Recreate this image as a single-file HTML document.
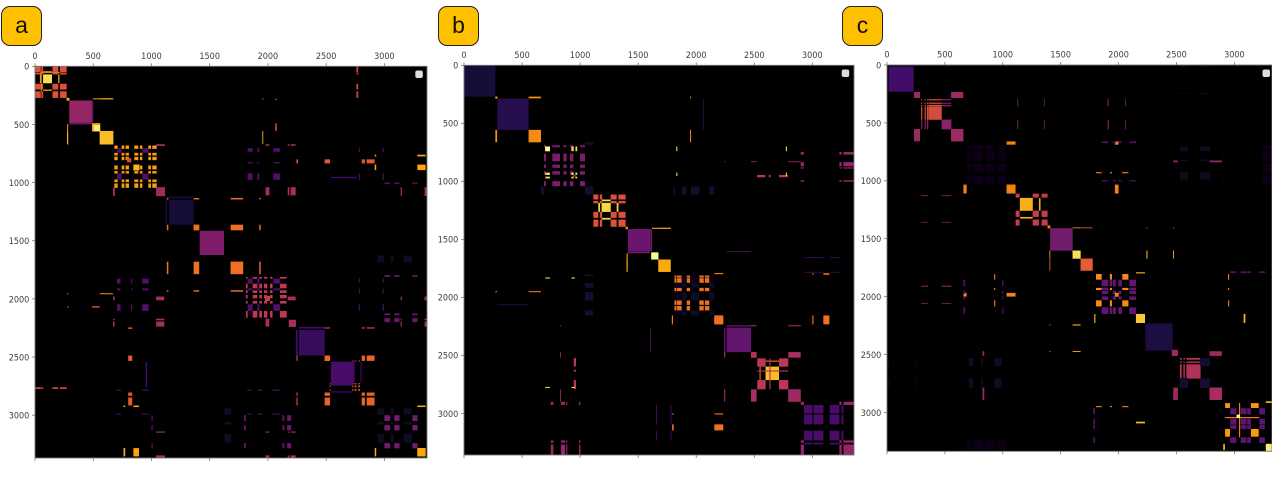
<!DOCTYPE html>
<html lang="en">
<head>
<meta charset="utf-8">
<title>Matrix comparison panels a, b, c</title>
<style>
html,body{margin:0;padding:0;background:#fff;width:1272px;height:483px;overflow:hidden;}
#stage{position:relative;width:1272px;height:483px;}
#chart{position:absolute;left:0;top:0;}
.badge{position:absolute;top:6px;height:38px;background:#ffc000;border:1px solid #222;border-radius:9px;font-family:"Liberation Sans",sans-serif;font-size:23px;line-height:37px;text-align:center;color:#111;box-sizing:content-box;}
text{font-family:"DejaVu Sans",sans-serif;font-size:9.2px;fill:#3c3c3c;}
</style>
</head>
<body>
<div id="stage">
  <div class="badge" style="left:1px;width:39px">a</div>
  <div class="badge" style="left:438px;width:39px">b</div>
  <div class="badge" style="left:842px;width:39px">c</div>
  <svg id="chart" width="1272" height="483" viewBox="0 0 1272 483" xmlns="http://www.w3.org/2000/svg"></svg>
</div>
<script>
// Tick labels shared by all axes
const tickLabels = [0, 500, 1000, 1500, 2000, 2500, 3000];

// ----- Panel a: index spans -----
const aOuter = [[0,50],[55,70],[150,200],[215,272]];
const aOrange = [[681,710],[744,767],[778,807],[853,887],[901,922],[973,996],[1007,1045]];
const aPurple = [[704,744],[922,973]];
const aRed = [[1811,1826],[1869,1909],[1926,1949],[1966,1995],[2018,2040],[2103,2161]];
const aViolet = [[1826,1869],[1909,1926],[2046,2103]];
const aBlue = [[3000,3050],[3085,3130],[3240,3285]];
const aNavy = [[2940,2996],[3055,3082],[3160,3237]];
const aCluster = [[2805,2833],[2848,2916]];
const aGold = [[760,775],[845,893]];
const aMagCols = [[1040,1115],[1980,2012],[2170,2184],[2195,2238]];
const aPurpleCols = [[700,738],[921,979],[1823,1860],[1912,1952],[2040,2103]];
const aSpeckle = [[2725,2735],[2745,2760],[2775,2790]];

// Panel a blocks: [row spans, column spans, value]
const panelABlocks = [
  [aOuter, aOuter, .6],
  [[[70,145]], [[70,145]], .92],
  [[[50,58]], [[45,215]], .72],
  [[[200,210]], [[70,145]], .85],
  [[[42,52]], [[70,145]], .75],
  [[[272,295]], [[272,295]], .82],
  [[[295,485]], [[295,485]], .41],
  [[[485,500]], [[295,485]], .3],
  [[[275,285]], [[497,560]], .7],
  [[[275,285]], [[560,672]], .85],
  [[[490,560]], [[490,560]], .78],
  [[[505,558]], [[505,558]], .95],
  [[[556,672]], [[556,672]], .85],
  [aOrange, aOrange, .78],
  [aPurple, aPurple, .24],
  [[[790,825]], [[790,825]], .58],
  [[[845,896]], [[845,896]], .83],
  [[[670,685]], [[1040,1116]], .45],
  [[[1040,1116]], [[1040,1116]], .43],
  [[[1150,1362]], [[1150,1362]], .1],
  [[[1120,1135]], [[1150,1362]], .1],
  [[[1362,1410]], [[1362,1410]], .68],
  [[[1132,1145]], [[1362,1410]], .66],
  [[[1132,1145]], [[1132,1145]], .66],
  [[[1415,1622]], [[1415,1622]], .35],
  [[[1680,1787]], [[1680,1787]], .68],
  [[[1132,1145]], [[1680,1787]], .68],
  [[[1362,1410]], [[1680,1787]], .68],
  [[[1925,1938]], [[1132,1145],[1362,1410],[1680,1787]], .65],
  [[[1952,1960]], [[275,285],[556,670]], .8],
  [[[2063,2075]], [[280,290],[490,555]], .62],
  [aRed, aRed, .5],
  [aViolet, aViolet, .24],
  [[[1975,2018]], [[1975,2018]], .52],
  [[[704,735],[920,976],[825,835]], aViolet, .24],
  [[[1040,1110],[670,683]], [[1980,2012],[2170,2184],[2195,2238]], .45],
  [[[2180,2240]], [[2180,2240]], .45],
  [[[1980,2012]], [[2170,2238]], .45],
  [[[2267,2487]], [[2267,2487]], .17],
  [[[2240,2255]], [[2267,2487]], .2],
  [[[2487,2533]], [[2487,2533]], .66],
  [[[2245,2255]], [[2487,2533],[2805,2833],[2848,2916]], .58],
  [[[2487,2533]], aCluster, .65],
  [[[800,835]], [[2245,2258],[2487,2533],[2805,2833],[2848,2916]], .62],
  [[[2541,2725]], [[2541,2725]], .22],
  [[[2725,2745],[2795,2805]], [[2541,2725]], .2],
  [aSpeckle, aSpeckle, .62],
  [[[2530,2538]], aSpeckle, .6],
  [aCluster, aCluster, .65],
  [[[2760,2775]], aOuter, .55],
  [[[950,962]], [[2540,2760]], .2],
  [[[2917,2930],[3283,3354]], aGold, .8],
  [[[3283,3354]], [[3283,3354]], .8],
  [[[2917,2930]], [[3283,3354]], .82],
  [aBlue, aBlue, .32],
  [aNavy, aNavy, .06],
  [[[1625,1685]], aNavy, .06],
  [[[1795,1810],[2125,2140],[2165,2200]], aBlue, .3],
  [[[1000,1010]], aBlue, .3],
  [[[3140,3150],[3345,3366]], aMagCols, .45],
  [[[2985,2995],[2780,2790]], aPurpleCols, .22]
];

// ----- Panel b: index spans -----
const bMag = [[689,706],[761,827],[856,884],[913,942],[999,1042]];
const bYellow = [[700,740],[925,945],[960,975]];
const bNavyCols = [[663,680],[1803,1818],[1875,1918],[1955,2027],[2113,2156]];
const bRed = [[1114,1157],[1170,1190],[1263,1315],[1330,1392]];
const bOrange = [[1812,1830],[1835,1875],[1918,1947],[2027,2065],[2075,2113]];
const bNavy = [[1875,1918],[1955,2027],[2113,2156]];
const bCluster = [[2526,2598],[2713,2793]];
const bPurple = [[2928,3000],[3010,3095],[3150,3233],[3253,3268]];
const bPink = [[2900,2928],[3233,3253],[3268,3355]];
const bPinkCols = [[747,770],[835,870],[880,890],[990,1003]];

// Panel b blocks: [row spans, column spans, value]
const panelBBlocks = [
  [[[0,270]], [[0,270]], .1],
  [[[270,287]], [[270,287]], .78],
  [[[287,557]], [[287,557]], .14],
  [[[557,663]], [[557,663]], .74],
  [[[270,285]], [[557,663]], .75],
  [[[1947,1956]], [[270,285],[557,663]], .72],
  [[[2060,2068]], [[287,557]], .15],
  [bMag, bMag, .35],
  [bYellow, bYellow, .92],
  [[[700,740]], [[700,740]], .99],
  [[[945,960]], [[945,960]], .55],
  [[[670,690]], [[1042,1114]], .07],
  [[[1042,1114]], [[1042,1114]], .08],
  [[[1042,1114]], bNavyCols, .08],
  [bRed, bRed, .6],
  [[[1186,1263]], [[1186,1263]], .9],
  [[[1157,1172],[1315,1330]], [[1186,1263]], .9],
  [[[1392,1412]], [[1392,1412]], .72],
  [[[1412,1602]], [[1412,1602]], .3],
  [[[1605,1620]], [[1412,1602]], .32],
  [[[1400,1410]], [[1620,1674]], .75],
  [[[1400,1410]], [[1674,1780]], .83],
  [[[1613,1674]], [[1613,1674]], .98],
  [[[1674,1780]], [[1674,1780]], .81],
  [bOrange, bOrange, .68],
  [bNavy, bNavy, .06],
  [[[1812,1875]], bNavy, .04],
  [[[1790,1800]], [[2156,2233]], .7],
  [[[2156,2233]], [[2156,2233]], .68],
  [[[2156,2233],[1792,1806]], [[3000,3010],[3095,3147]], .68],
  [[[2262,2472]], [[2262,2472]], .28],
  [[[2240,2252]], [[2262,2472]], .27],
  [[[2472,2520]], [[2472,2520]], .47],
  [[[2472,2520]], [[2793,2900]], .45],
  [[[2240,2250]], [[2472,2520],[2793,2900]], .42],
  [bCluster, bCluster, .5],
  [[[2598,2713]], [[2598,2713]], .85],
  [[[2545,2555]], [[2598,2713]], .66],
  [[[2630,2640]], [[2526,2713],[2713,2793]], .48],
  [[[2793,2900]], [[2793,2900]], .42],
  [bPurple, bPurple, .22],
  [bPink, bPink, .4],
  [bPink, bPinkCols, .4],
  [[[945,965]], [[2524,2595],[2625,2640],[2713,2790]], .5],
  [[[828,835]], [[2240,2250],[2472,2520],[2793,2900]], .45],
  [[[2772,2782],[1828,1838]], [[700,740],[925,955]], .88],
  [[[1602,1608]], [[2262,2472]], .28],
  [[[1655,1662],[1780,1787]], [[2928,3095],[3150,3233]], .22]
];

// ----- Panel c: index spans -----
const cStripes = [[295,305],[325,335],[345,357]];
const cNavyGrid = [[690,730],[745,830],[850,930],[960,1030]];
const cRed = [[1111,1145],[1258,1312],[1335,1387]];
const cPurple = [[1854,1911],[1949,1977],[1998,2026],[2093,2150]];
const cOrange = [[1805,1854],[1925,1943],[2032,2085]];
const cStripes2 = [[2530,2545],[2560,2572],[2585,2600]];
const cViolet = [[2964,3017],[3055,3105],[3110,3143],[3215,3264]];
const cAmber = [[2920,2962],[3143,3210]];
const cNavyRows = [[2530,2600],[2705,2790]];

// Panel c blocks: [row spans, column spans, value]
const panelCBlocks = [
  [[[15,230]], [[15,230]], .2],
  [[[233,285]], [[233,285]], .42],
  [[[553,659]], [[553,659]], .42],
  [[[233,285]], [[553,659]], .42],
  [cStripes, cStripes, .6],
  [cStripes, [[360,472]], .6],
  [[[360,472]], [[360,472]], .58],
  [[[472,555]], [[472,555]], .38],
  [cStripes, [[472,555]], .36],
  [cNavyGrid, cNavyGrid, .04],
  [[[1033,1110]], [[1033,1110]], .72],
  [[[660,688]], [[1033,1110]], .72],
  [[[1968,2000]], [[1033,1110],[660,688]], .72],
  [cRed, cRed, .52],
  [[[1148,1258]], [[1148,1258]], .82],
  [[[1150,1165],[1312,1326]], [[1150,1258]], .82],
  [[[1387,1410]], [[1387,1410]], .72],
  [[[1410,1603]], [[1410,1603]], .32],
  [[[1603,1672]], [[1603,1672]], .92],
  [[[1672,1776]], [[1672,1776]], .63],
  [[[1403,1410]], [[1603,1672]], .8],
  [[[1403,1410]], [[1672,1776]], .65],
  [[[2240,2250],[2470,2478]], [[1403,1410],[1603,1672]], .8],
  [cPurple, cPurple, .28],
  [cOrange, cOrange, .74],
  [[[1923,1943],[2003,2029]], [[1854,1911],[2093,2150]], .28],
  [[[1968,2000]], [[1968,2000]], .73],
  [[[2150,2228]], [[2150,2228]], .87],
  [[[1790,1800],[3080,3095]], [[2150,2228]], .83],
  [[[2242,2466]], [[2242,2466]], .12],
  [[[2230,2240]], [[2242,2466]], .12],
  [[[2460,2512]], [[2460,2512]], .42],
  [[[2786,2892]], [[2786,2892]], .45],
  [[[2472,2512]], [[2786,2892]], .42],
  [cStripes2, cStripes2, .48],
  [cStripes2, [[2593,2708]], .48],
  [[[2593,2708]], [[2593,2708]], .47],
  [[[2705,2789]], [[2705,2789]], .08],
  [cStripes2, [[2705,2789]], .08],
  [[[2705,2789]], [[2530,2600]], .08],
  [cViolet, cViolet, .26],
  [cAmber, cAmber, .77],
  [[[3040,3050]], [[2918,3215]], .7],
  [[[3020,3048]], [[3020,3048]], .98],
  [[[3272,3325]], [[3272,3340]], .95],
  [[[2904,2918]], [[3272,3325]], .85],
  [[[2945,2955]], cOrange, .7],
  [[[1782,1796]], cViolet, .26],
  [[[1905,1915],[2055,2062]], [[295,355],[472,555]], .36],
  [[[1125,1133],[1355,1362]], [[295,355],[472,555]], .35],
  [[[660,675],[995,1005]], cPurple, .25],
  [[[925,935]], cOrange, .7],
  [cNavyRows, [[705,745],[815,830],[925,990],[10,20],[240,250]], .06],
  [[[825,840]], [[2472,2512],[2786,2892]], .42],
  [[[2895,2905],[3240,3325]], cNavyGrid, .03]
];

// Inferno colour stops, sampled at every 0.1
const infernoStops = ["#000004","#160b39","#420a68","#6a176e","#932667","#bc3754","#dd513a","#f37819","#fca50a","#f6d746","#fcffa4"];

const panelBlocks = [panelABlocks, panelBBlocks, panelCBlocks];
const panelNames = ["a", "b", "c"];
const panelLayouts = [
  {left:35,  top:66.3, right:427,  bottom:458,   xMax:3366, yMax:3368, chipX:415.3, chipY:70.5},
  {left:464, top:65.3, right:854,  bottom:455,   xMax:3359, yMax:3359, chipX:841.7, chipY:69.5},
  {left:887, top:65,   right:1272, bottom:451.3, xMax:3325, yMax:3336, chipX:1262.5, chipY:69.5}
];

const SVG_NS = "http://www.w3.org/2000/svg";
const svg = document.getElementById("chart");

function hexToRgb(hex) {
  return [1, 3, 5].map(function (i) { return parseInt(hex.substr(i, 2), 16); });
}
function inferno(v) {
  const t = Math.max(0, Math.min(1, v)) * (infernoStops.length - 1);
  const i = Math.min(Math.floor(t), infernoStops.length - 2);
  const a = hexToRgb(infernoStops[i]);
  const b = hexToRgb(infernoStops[i + 1]);
  const f = t - i;
  return "rgb(" + a.map(function (c, k) { return Math.round(c + (b[k] - c) * f); }).join(",") + ")";
}
function make(tag, parent) {
  const el = document.createElementNS(SVG_NS, tag);
  parent.appendChild(el);
  return el;
}

const defs = make("defs", svg);
const blur = make("filter", defs);
blur.setAttribute("id", "soften");
blur.setAttribute("x", "-2%");
blur.setAttribute("y", "-2%");
blur.setAttribute("width", "104%");
blur.setAttribute("height", "104%");
const gaussian = make("feGaussianBlur", blur);
gaussian.setAttribute("stdDeviation", "0.3");

panelLayouts.forEach(function (layout, p) {
  const name = panelNames[p];
  const xScale = function (v) { return layout.left + v * (layout.right - layout.left) / layout.xMax; };
  const yScale = function (v) { return layout.top + v * (layout.bottom - layout.top) / layout.yMax; };

  const clip = make("clipPath", defs);
  clip.setAttribute("id", "clip-" + name);
  const clipRect = make("rect", clip);
  clipRect.setAttribute("x", layout.left);
  clipRect.setAttribute("y", layout.top);
  clipRect.setAttribute("width", layout.right - layout.left);
  clipRect.setAttribute("height", layout.bottom - layout.top);

  const panel = make("g", svg);
  
  

  const bg = make("rect", panel);
  
  
  bg.setAttribute("x", layout.left);
  bg.setAttribute("y", layout.top);
  bg.setAttribute("width", layout.right - layout.left);
  bg.setAttribute("height", layout.bottom - layout.top);
  bg.setAttribute("fill", "#000");

  const clipGroup = make("g", panel);
  clipGroup.setAttribute("clip-path", "url(#clip-" + name + ")");
  const marks = make("g", clipGroup);
  marks.setAttribute("filter", "url(#soften)");
  
  

  function drawCell(r, c, v) {
    const rect = make("rect", marks);
    
    
    rect.setAttribute("x", xScale(c[0]).toFixed(2));
    rect.setAttribute("y", yScale(r[0]).toFixed(2));
    rect.setAttribute("width", (xScale(c[1]) - xScale(c[0])).toFixed(2));
    rect.setAttribute("height", (yScale(r[1]) - yScale(r[0])).toFixed(2));
    rect.setAttribute("fill", inferno(v));
  }

  panelBlocks[p].forEach(function (block) {
    const rows = block[0], cols = block[1], v = block[2];
    rows.forEach(function (r) {
      cols.forEach(function (c) {
        drawCell(r, c, v);
        if (rows !== cols) drawCell(c, r, v);
      });
    });
  });

  const frame = make("rect", panel);
  
  
  frame.setAttribute("x", layout.left);
  frame.setAttribute("y", layout.top);
  frame.setAttribute("width", layout.right - layout.left);
  frame.setAttribute("height", layout.bottom - layout.top);
  frame.setAttribute("fill", "none");
  frame.setAttribute("stroke", "#777");
  frame.setAttribute("stroke-width", "0.9");

  const chip = make("rect", panel);
  
  
  chip.setAttribute("x", layout.chipX);
  chip.setAttribute("y", layout.chipY);
  chip.setAttribute("width", 7.5);
  chip.setAttribute("height", 7.5);
  chip.setAttribute("rx", 2);
  chip.setAttribute("fill", "#ddd");

  tickLabels.forEach(function (t) {
    const px = xScale(t);
    const py = yScale(t);

    const topTick = make("line", panel);
    
    
    topTick.setAttribute("x1", px);
    topTick.setAttribute("x2", px);
    topTick.setAttribute("y1", layout.top - 3);
    topTick.setAttribute("y2", layout.top);
    topTick.setAttribute("stroke", "#666");
    topTick.setAttribute("stroke-width", "0.7");

    const bottomTick = make("line", panel);
    
    
    bottomTick.setAttribute("x1", px);
    bottomTick.setAttribute("x2", px);
    bottomTick.setAttribute("y1", layout.bottom);
    bottomTick.setAttribute("y2", layout.bottom + 3);
    bottomTick.setAttribute("stroke", "#666");
    bottomTick.setAttribute("stroke-width", "0.7");

    const leftTick = make("line", panel);
    
    
    leftTick.setAttribute("x1", layout.left - 3);
    leftTick.setAttribute("x2", layout.left);
    leftTick.setAttribute("y1", py);
    leftTick.setAttribute("y2", py);
    leftTick.setAttribute("stroke", "#666");
    leftTick.setAttribute("stroke-width", "0.7");

    const xLabel = make("text", panel);
    
    
    xLabel.setAttribute("transform", "translate(" + px + "," + (layout.top - 7.5) + ") scale(0.88,1)");
    xLabel.setAttribute("text-anchor", "middle");
    xLabel.textContent = t;

    const yLabel = make("text", panel);
    
    
    yLabel.setAttribute("transform", "translate(" + (layout.left - 5.7) + "," + (py + 3.4) + ") scale(0.88,1)");
    yLabel.setAttribute("text-anchor", "end");
    yLabel.textContent = t;
  });
});
</script>
</body>
</html>
